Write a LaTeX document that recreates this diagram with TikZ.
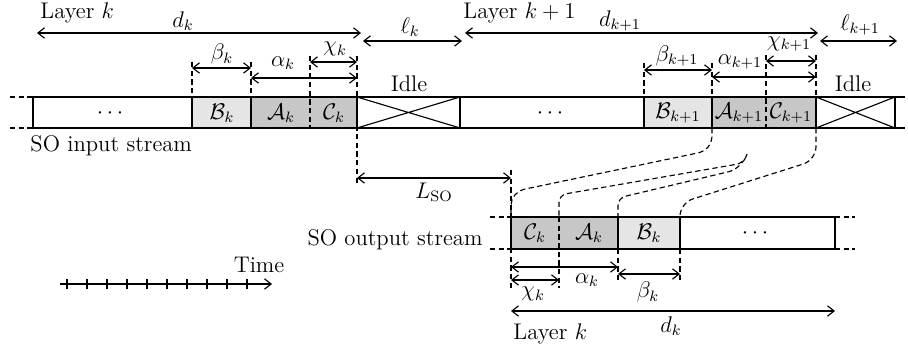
\documentclass[tikz,border=0pt]{standalone}
\usepackage{amsmath,amssymb}
\usepackage{tikz}
\usetikzlibrary{arrows.meta}

\begin{document}
\begin{tikzpicture}[
    x=0.53pt, y=-0.53pt,
    line width=0.6pt,
    font=\large,
    seg/.style   = {draw=black, line width=0.6pt},
    lite/.style  = {seg, fill=black!10},
    dark/.style  = {seg, fill=black!22},
    guide/.style = {dash pattern=on 2.8pt off 1.8pt, line width=0.6pt},
    link/.style  = {guide, rounded corners=7pt},
    dim/.style   = {{Straight Barb[length=3.5pt,width=5.5pt]}-{Straight Barb[length=3.5pt,width=5.5pt]}, line width=0.6pt},
    fwd/.style   = {-{Straight Barb[length=3.5pt,width=5.5pt]}, line width=0.6pt},
    lbl/.style   = {inner sep=1pt}
]
\useasboundingbox (0,0) rectangle (908,351);

% Input stream, cell edges on the top line
\coordinate (i0)  at (33,97);
\coordinate (iB)  at (192,97);
\coordinate (iA)  at (251,97);
\coordinate (iC)  at (310,97);
\coordinate (iI)  at (357,97);
\coordinate (i1)  at (460,97);
\coordinate (iB1) at (644,97);
\coordinate (iA1) at (712,97);
\coordinate (iC1) at (766,97);
\coordinate (iI1) at (816,97);
\coordinate (iE)  at (895,97);

\draw[seg] (i0) -- (900,97);
\draw[seg] (i0 |- 0,128) -- (900,128);
\draw[guide] (10,97) -- (i0);
\draw[guide] (10,128) -- (i0 |- 0,128);
\draw[guide] (900,97) -- (908,97);
\draw[guide] (900,128) -- (908,128);

\draw[seg]  (i0) rectangle (iB |- 0,128);
\draw[lite] (iB) rectangle (iA |- 0,128);
\draw[dark] (iA) rectangle (iI |- 0,128);
\draw[seg]  (iI) rectangle (i1 |- 0,128);
\draw[seg]  (iI) -- (i1 |- 0,128) (iI |- 0,128) -- (i1);
\draw[seg]  (i1) rectangle (iB1 |- 0,128);
\draw[lite] (iB1) rectangle (iA1 |- 0,128);
\draw[dark] (iA1) rectangle (iI1 |- 0,128);
\draw[seg]  (iI1) rectangle (iE |- 0,128);
\draw[seg]  (iI1) -- (iE |- 0,128) (iI1 |- 0,128) -- (iE);

\node[lbl] (dots1) at (112,113) {$\cdots$};
\node[lbl] (bk)    at (222,113) {$\mathcal{B}_k$};
\node[lbl] (ak)    at (281,113) {$\mathcal{A}_k$};
\node[lbl] (ck)    at (334,113) {$\mathcal{C}_k$};
\node[lbl] (dots2) at (552,113) {$\cdots$};
\node[lbl] (bk1)   at (678,113) {$\mathcal{B}_{k+1}$};
\node[lbl] (ak1)   at (739,113) {$\mathcal{A}_{k+1}$};
\node[lbl] (ck1)   at (791,113) {$\mathcal{C}_{k+1}$};
\node[lbl] (idle1) at (409,84)  {Idle};
\node[lbl] (idle2) at (853,84)  {Idle};
\node[lbl, anchor=west] (sin) at (28,146) {SO input stream};

% Guides on the input stream
\draw[guide] (iB |- 0,62)  -- (iB);
\draw[guide] (iA |- 0,62)  -- (iA);
\draw[guide] (iC |- 0,56)  -- (iC |- 0,128);
\draw[guide] (iI |- 0,56)  -- (iI |- 0,186);
\draw[guide] (iB1 |- 0,63) -- (iB1);
\draw[guide] (iA1 |- 0,63) -- (iA1);
\draw[guide] (iC1 |- 0,55) -- (iC1 |- 0,128);
\draw[guide] (iI1 |- 0,55) -- (iI1);

% Layer spans
\coordinate (dk0)  at (37,33);
\coordinate (dk1)  at (361,33);
\coordinate (lk0)  at (363,41);
\coordinate (lk1)  at (462,41);
\coordinate (dn0)  at (465,33);
\coordinate (dn1)  at (818,33);
\coordinate (ln0)  at (820,41);
\coordinate (ln1)  at (897,41);
\draw[dim] (dk0) -- (dk1);
\draw[dim] (lk0) -- (lk1);
\draw[dim] (dn0) -- (dn1);
\draw[dim] (ln0) -- (ln1);
\node[lbl, anchor=west] (layk)  at (38,13)  {Layer $k$};
\node[lbl]              (ldk)   at (183,21) {$d_k$};
\node[lbl]              (llk)   at (410,27) {$\ell_k$};
\node[lbl, anchor=west] (layk1) at (461,13) {Layer $k+1$};
\node[lbl]              (ldn)   at (620,21) {$d_{k+1}$};
\node[lbl]              (lln)   at (860,25) {$\ell_{k+1}$};

% Part spans, input stream
\draw[dim] (iB |- 0,68)  -- (iA |- 0,68);
\draw[dim] (iA |- 0,78)  -- (iI |- 0,78);
\draw[dim] (iC |- 0,62)  -- (iI |- 0,62);
\draw[dim] (iB1 |- 0,70) -- (iA1 |- 0,70);
\draw[dim] (iA1 |- 0,77) -- (iI1 |- 0,77);
\draw[dim] (iC1 |- 0,61) -- (iI1 |- 0,61);
\node[lbl] (lbk)  at (222,54) {$\beta_k$};
\node[lbl] (lak)  at (283,63) {$\alpha_k$};
\node[lbl] (lck)  at (335,49) {$\chi_k$};
\node[lbl] (lbk1) at (677,56) {$\beta_{k+1}$};
\node[lbl] (lak1) at (740,62) {$\alpha_{k+1}$};
\node[lbl] (lck1) at (789,44) {$\chi_{k+1}$};

% Output stream
\coordinate (o0) at (511,217);
\coordinate (oA) at (559,217);
\coordinate (oB) at (618,217);
\coordinate (oD) at (680,217);
\coordinate (oE) at (835,217);

\draw[dark] (o0) rectangle (oB |- 0,249);
\draw[lite] (oB) rectangle (oD |- 0,249);
\draw[seg]  (oD) rectangle (oE |- 0,249);
\draw[guide] (490,217) -- (o0);
\draw[guide] (490,249) -- (o0 |- 0,249);
\draw[guide] (oE) -- (855,217);
\draw[guide] (oE |- 0,249) -- (855,249);

\node[lbl] (ock)   at (535,233) {$\mathcal{C}_k$};
\node[lbl] (oak)   at (589,233) {$\mathcal{A}_k$};
\node[lbl] (obk)   at (649,233) {$\mathcal{B}_k$};
\node[lbl] (dots3) at (757,233) {$\cdots$};
\node[lbl, anchor=east] (sout) at (485,240) {SO output stream};

% Guides on the output stream
\draw[guide] (o0 |- 0,170) -- (o0 |- 0,288);
\draw[guide] (oA) -- (oA |- 0,288);
\draw[guide] (oB |- 0,249) -- (oB |- 0,281);
\draw[guide] (oD |- 0,249) -- (oD |- 0,281);

% Latency
\draw[dim] (iI |- 0,178) -- (o0 |- 0,178);
\node[lbl] (lso) at (434,192) {$L_{\mathrm{SO}}$};

% Part spans, output stream
\draw[dim] (o0 |- 0,267) -- (oB |- 0,267);
\draw[dim] (o0 |- 0,280) -- (oA |- 0,280);
\draw[dim] (oB |- 0,274) -- (oD |- 0,274);
\draw[dim] (o0 |- 0,311) -- (oE |- 0,311);
\node[lbl] (olak) at (587,280) {$\alpha_k$};
\node[lbl] (olck) at (533,294) {$\chi_k$};
\node[lbl] (olbk) at (648,292) {$\beta_k$};
\node[lbl] (oldk) at (671,326) {$d_k$};
\node[lbl, anchor=west] (olay) at (511,334) {Layer $k$};

% Reordering links
\coordinate (f1) at (747,154);
\coordinate (f2) at (745,159);
\draw[link] (iA1 |- 0,128) -- (712,150) -- (511,192) -- (o0);
\draw[link, rounded corners=4pt] (f1) -- (744,163) -- (559,195) -- (oA);
\draw[link, rounded corners=4pt] (f2) -- (736,170) -- (618,198) -- (oB);
\draw[link] (iI1 |- 0,128) -- (816,160) -- (680,203) -- (oD);

% Time axis
\coordinate (t0) at (60,284);
\coordinate (t1) at (272,284);
\draw[fwd] (t0) -- (t1);
\foreach \i in {0,...,9}
    \draw (67+20*\i,279) -- (67+20*\i,289);
\node[lbl] (time) at (259,265) {Time};
\end{tikzpicture}
\end{document}
